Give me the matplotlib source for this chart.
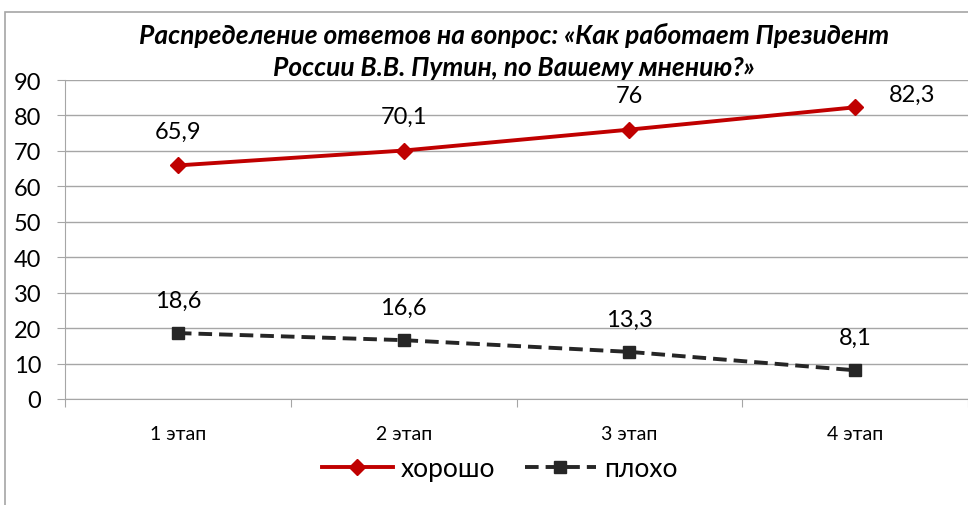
import numpy as np
import matplotlib.pyplot as plt
from matplotlib.patches import Rectangle

plt.rcParams['font.family'] = ['Lato', 'DejaVu Sans']

# Data
stages = ['1 этап', '2 этап', '3 этап', '4 этап']
good = [65.9, 70.1, 76, 82.3]
bad = [18.6, 16.6, 13.3, 8.1]
good_labels = ['65,9', '70,1', '76', '82,3']
bad_labels = ['18,6', '16,6', '13,3', '8,1']

fig = plt.figure(figsize=(9.68, 5.06), dpi=100)
fig.patches.append(Rectangle((5 / 968, -0.1), 1.2, 1 - 13 / 506 + 0.1,
                             transform=fig.transFigure, fill=False,
                             edgecolor='#a6a6a6', linewidth=1.2))
ax = fig.add_axes([65 / 968, 1 - 400 / 506, 1 - 65 / 968, (400 - 81) / 506])

x = np.arange(len(stages))
ax.plot(x, good, color='#c00000', linewidth=2.8, marker='D', markersize=8,
        label='хорошо')
ax.plot(x, bad, color='#262626', linewidth=2.8, linestyle=(0, (3.5, 1.8)),
        marker='s', markersize=9, label='плохо')

for i in range(len(x)):
    dx = 41 if i == 3 else 0
    dy = 9.5 if i == 3 else 24.5
    ax.annotate(good_labels[i], (x[i], good[i]), xytext=(dx, dy),
                textcoords='offset points', ha='center', va='center',
                fontsize=17)
    ax.annotate(bad_labels[i], (x[i], bad[i]), xytext=(0, 23.5),
                textcoords='offset points', ha='center', va='center',
                fontsize=17)

ax.set_xlim(-0.5, 3.5)
ax.set_ylim(0, 90)
ax.set_yticks(np.arange(0, 91, 10))
ax.yaxis.grid(True, color='#a6a6a6', linewidth=1)
ax.set_axisbelow(True)
for s in ['top', 'right']:
    ax.spines[s].set_visible(False)
ax.spines['left'].set_color('#a6a6a6')
ax.spines['bottom'].set_color('#a6a6a6')
ax.tick_params(axis='y', length=6, color='#a6a6a6', labelsize=17, pad=11)

ax.set_xticks(np.arange(-0.5, 3.6, 1))
ax.set_xticklabels([])
ax.tick_params(axis='x', which='major', length=6, color='#a6a6a6')
ax.set_xticks(x, minor=True)
ax.set_xticklabels(stages, minor=True)
ax.tick_params(axis='x', which='minor', length=0, labelsize=14, pad=19)

fig.text(0.531, 1 - 35 / 506, 'Распределение ответов на вопрос: «Как работает Президент',
         ha='center', va='center', fontsize=19, fontweight='bold', fontstyle='italic')
fig.text(0.531, 1 - 68 / 506, 'России В.В. Путин, по Вашему мнению?»',
         ha='center', va='center', fontsize=19, fontweight='bold', fontstyle='italic')

fig.legend(loc='center', bbox_to_anchor=(0.516, 1 - 470 / 506), ncol=2,
           frameon=False, fontsize=19, handlelength=2.7, columnspacing=1.1,
           handletextpad=0.3)

fig.savefig('out.png', dpi=100)
